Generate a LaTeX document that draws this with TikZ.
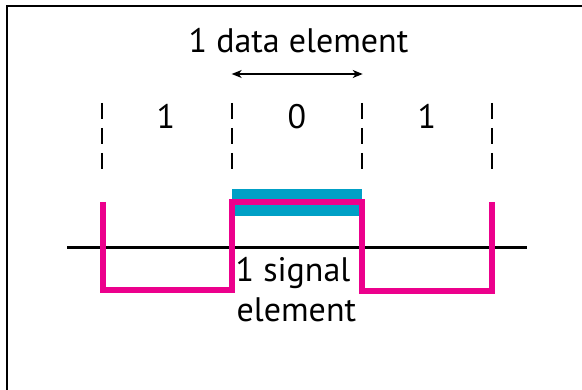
\documentclass[tikz,border=0pt]{standalone}
\usepackage{fontspec}
\setmainfont{PT Sans}
\usetikzlibrary{arrows.meta}
\definecolor{wavepink}{HTML}{EC008C}
\definecolor{barcyan}{HTML}{00A0C6}
\begin{document}
\begin{tikzpicture}[x=1pt,y=-1pt,
  lbl/.style={inner sep=0pt,anchor=base,font=\fontsize{34}{40}\selectfont},
  bitline/.style={line width=2pt,dash pattern=on 16pt off 9pt},
  wave/.style={draw=wavepink,line width=6pt,miter limit=10},
  frame/.style={line width=2pt,black}]
\useasboundingbox (0,0) rectangle (582,390);
% frame
\draw[frame] (7.3,390) -- (7.3,5.7) -- (582,5.7);
% bit boundaries
\foreach \n/\x in {b0/101.7,b1/231.7,b2/361.5,b3/491.7}{
  \coordinate (\n top) at (\x,103);
  \coordinate (\n bot) at (\x,170);
  \draw[bitline] (\n top) -- (\n bot);
}
% labels
\node[lbl] (title) at (298.5,52.3) {1 data element};
\node[lbl] (bit1) at (166,128.3) {1};
\node[lbl] (bit2) at (297,128.3) {0};
\node[lbl] (bit3) at (427,128.3) {1};
% arrow
\coordinate (al) at (231.7,74);
\coordinate (ar) at (362.7,74);
\draw[line width=1.2pt,{Stealth[length=10pt,width=8pt,inset=3pt]}-{Stealth[length=10pt,width=8pt,inset=3pt]}] (al) -- (ar);
% cyan data bar
\fill[barcyan] (231.7,189.3) rectangle (362.3,216);
% axis
\coordinate (axl) at (67,247.3);
\coordinate (axr) at (526.7,247.3);
\draw[line width=2.5pt] (axl) -- (axr);
% waveform
\draw[wave] (103,202) -- (103,290) -- (232,290) -- (232,202) -- (362,202) -- (362,291) -- (492,291) -- (492,202);
% signal element label
\node[lbl] (sig1) at (293,281.7) {1 signal};
\node[lbl] (sig2) at (296.4,321.7) {element};
\end{tikzpicture}
\end{document}
